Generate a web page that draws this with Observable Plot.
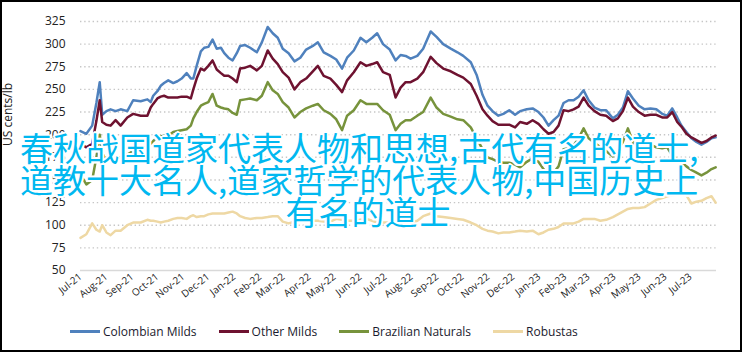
<!DOCTYPE html>
<html>
<head>
<meta charset="utf-8">
<script src="https://cdn.jsdelivr.net/npm/d3@7"></script>
<script src="https://cdn.jsdelivr.net/npm/@observablehq/plot@0.6"></script>
<style>
  html, body { margin: 0; padding: 0; background: #fff; }
  #wrap { position: relative; width: 743px; height: 352px; overflow: hidden; background: #fff; }
  #chart { position: absolute; left: 0; top: 0; }
  #legend { position: absolute; left: 70px; top: 323px; display: flex; align-items: center; height: 16px;
    font-family: "Open Sans", sans-serif; font-size: 12px; color: #1a1a2e; }
  .item { display: flex; align-items: center; margin-right: 22px; }
  .swatch { width: 30px; height: 3px; margin-right: 3px; }
  #frame { position: absolute; left: 0; top: 0; width: 742px; height: 352px; box-sizing: border-box; border: 2px solid #000; pointer-events: none; }
  #overlay { position: absolute; left: 0; top: 131px; width: 743px; font-family: "Noto Sans CJK SC", sans-serif;
    font-size: 33px; line-height: 32px; color: #00b8f0; white-space: nowrap;
    text-shadow: 2px 0 0 #fff, -2px 0 0 #fff, 0 2px 0 #fff, 0 -2px 0 #fff, 1.5px 1.5px 0 #fff, -1.5px 1.5px 0 #fff, 1.5px -1.5px 0 #fff, -1.5px -1.5px 0 #fff; }
  #overlay .l { padding-left: 20px; }
  #overlay .c { width: 736px; text-align: center; }
</style>
</head>
<body>
<div id="wrap">
  <div id="chart"></div>
  <div id="legend"></div>
  <div id="overlay"></div>
  <div id="frame"></div>
</div>
<script>
const dates = ["2021-07-01","2021-07-08","2021-07-15","2021-07-20","2021-07-24","2021-07-27","2021-08-01","2021-08-06","2021-08-12","2021-08-18",
"2021-08-26","2021-09-02","2021-09-11","2021-09-19","2021-09-23","2021-09-26","2021-10-01","2021-10-05","2021-10-09","2021-10-14",
"2021-10-20","2021-10-25","2021-10-30","2021-11-05","2021-11-10","2021-11-13","2021-11-17","2021-11-22","2021-11-26","2021-12-01",
"2021-12-06","2021-12-11","2021-12-16","2021-12-20","2021-12-25","2021-12-30","2022-01-04","2022-01-08","2022-01-14","2022-01-20",
"2022-01-28","2022-02-03","2022-02-10","2022-02-16","2022-02-22","2022-02-28","2022-03-07","2022-03-14","2022-03-21","2022-03-28",
"2022-04-05","2022-04-11","2022-04-18","2022-04-26","2022-05-03","2022-05-10","2022-05-16","2022-05-24","2022-06-01","2022-06-08",
"2022-06-15","2022-06-21","2022-06-28","2022-07-06","2022-07-13","2022-07-19","2022-07-25","2022-07-31","2022-08-08","2022-08-15",
"2022-08-24","2022-08-31","2022-09-08","2022-09-17","2022-09-25","2022-10-02","2022-10-11","2022-10-18","2022-10-25","2022-10-31",
"2022-11-06","2022-11-13","2022-11-19","2022-11-26","2022-12-03","2022-12-09","2022-12-17","2022-12-24","2022-12-31","2023-01-06",
"2023-01-12","2023-01-18","2023-01-24","2023-01-30","2023-02-05","2023-02-11","2023-02-17","2023-02-23","2023-03-01","2023-03-08",
"2023-03-15","2023-03-22","2023-03-30","2023-04-05","2023-04-11","2023-04-17","2023-04-23","2023-04-30","2023-05-07","2023-05-14",
"2023-05-21","2023-05-28","2023-06-03","2023-06-09","2023-06-15","2023-06-20","2023-06-26","2023-07-02","2023-07-08","2023-07-14",
"2023-07-20","2023-07-26","2023-07-31"];

const colombianMilds = [204,201,210,235,258,222,226,228,226,228,
226,238,237,239,236,243,248,254,257,260,
257,259,262,268,262,262,276,292,296,297,
305,295,296,290,285,282,290,298,299,296,
291,302,319,312,307,295,290,281,285,294,
298,302,291,287,283,273,285,293,307,302,
307,312,300,294,282,288,287,284,287,295,
314,308,300,295,291,287,280,266,244,232,
226,221,223,227,222,226,228,229,225,219,
210,216,221,235,238,238,242,249,238,230,
227,227,218,222,230,248,240,232,228,229,
228,223,221,229,219,210,203,196,192,189,
192,196,197];

const otherMilds = [190,186,190,215,238,214,211,210,216,210,
219,223,221,221,230,234,240,242,243,241,
241,241,242,242,240,250,262,273,271,276,
282,272,268,265,265,262,258,273,274,276,
271,276,293,284,278,269,263,250,258,262,
270,276,265,262,255,247,260,269,280,276,
278,280,269,266,241,252,258,258,262,269,
286,279,273,270,266,263,256,243,228,221,
215,211,211,211,208,214,212,216,212,206,
201,203,210,227,226,228,231,241,232,226,
222,221,215,218,226,241,231,225,221,222,
222,219,219,225,214,209,201,197,194,191,
193,197,199];

const brazilianNaturals = [156,145,150,175,200,180,170,172,174,175,
178,182,184,187,190,193,197,198,199,199,
203,204,205,206,210,218,225,232,234,236,
245,232,230,229,228,224,222,238,239,240,
238,243,258,249,245,236,230,219,225,229,
232,234,227,223,217,205,221,227,238,234,
234,234,227,222,205,212,216,216,221,225,
241,230,223,220,217,216,208,196,184,175,
173,170,169,169,167,164,170,174,170,162,
156,158,165,184,185,188,196,207,196,191,
186,182,176,182,192,207,192,184,186,189,
186,185,186,177,173,170,165,161,158,155,
158,162,164];

const robustas = [86,90,102,95,93,100,92,89,94,94,
100,103,103,106,105,105,104,103,104,105,
107,108,108,107,110,111,109,110,110,112,
113,113,113,113,114,115,113,110,108,107,
108,108,109,110,110,104,102,104,105,105,
105,105,104,104,107,106,105,105,106,107,
105,103,103,103,102,102,102,103,105,110,
113,110,109,108,107,106,103,100,96,94,
93,91,92,92,93,94,93,94,90,92,
95,96,98,102,102,102,104,107,107,107,
105,106,109,112,115,118,119,119,120,124,
128,130,132,133,134,134,133,124,126,127,
130,132,125];

const seriesNames = ["Colombian Milds", "Other Milds", "Brazilian Naturals", "Robustas"];
const seriesColors = ["#4f81bd", "#6e1230", "#77933c", "#eed8a4"];
const seriesValues = [colombianMilds, otherMilds, brazilianNaturals, robustas];
const yTicks = [50, 75, 100, 125, 150, 175, 200, 225, 250, 275, 300, 325];
const yLabel = "US cents/lb";
const xStart = "2021-07-01", xEnd = "2023-08-01", lastTick = "2023-07-01";
const overlayLines = ["春秋战国道家代表人物和思想,古代有名的道士,", "道教十大名人,道家哲学的代表人物,中国历史上", "有名的道士"];

const parse = d3.utcParse("%Y-%m-%d");
const dateObjs = dates.map(parse);
const tables = seriesValues.map(vals => vals.map((v, i) => ({date: dateObjs[i], value: v})));
const monthTicks = d3.utcMonth.range(parse(xStart), d3.utcDay.offset(parse(lastTick), 1));

const chart = Plot.plot({
  width: 743,
  height: 305,
  marginLeft: 80,
  marginRight: 27,
  marginTop: 21,
  marginBottom: 35,
  style: {fontFamily: "'Open Sans', sans-serif", fontSize: "12px", color: "#222", background: "transparent"},
  x: {type: "utc", domain: [parse(xStart), parse(xEnd)]},
  y: {domain: [50, 325]},
  marks: [
    Plot.ruleY(yTicks.filter(d => d > 50), {stroke: "#c6c6c6", strokeWidth: 1.4, strokeDasharray: "1.4,2.8"}),
    Plot.ruleY([50], {stroke: "#d9d9d9", strokeWidth: 1.5}),
    Plot.axisY({ticks: yTicks, tickSize: 0, tickPadding: 15, fontSize: 12, label: null}),
    Plot.axisX({ticks: monthTicks, tickFormat: d3.utcFormat("%b-%y"), tickSize: 0, tickPadding: 5, tickRotate: -38, fontSize: 10, label: null}),
    Plot.text([yLabel], {frameAnchor: "left", rotate: -90, dx: -72, fontSize: 12, fill: "#222"}),
    ...tables.map((t, i) => Plot.lineY(t, {x: "date", y: "value", stroke: seriesColors[i], strokeWidth: 2.5}))
  ]
});
document.getElementById("chart").appendChild(chart);

const legend = document.getElementById("legend");
seriesNames.forEach((n, i) => {
  const it = document.createElement("div");
  it.className = "item";
  const sw = document.createElement("div");
  sw.className = "swatch";
  sw.style.background = seriesColors[i];
  const tx = document.createElement("span");
  tx.textContent = n;
  it.appendChild(sw); it.appendChild(tx);
  legend.appendChild(it);
});

const ov = document.getElementById("overlay");
overlayLines.forEach((s, i) => {
  const d = document.createElement("div");
  d.className = i < 2 ? "l" : "c";
  d.textContent = s;
  ov.appendChild(d);
});
</script>
</body>
</html>
